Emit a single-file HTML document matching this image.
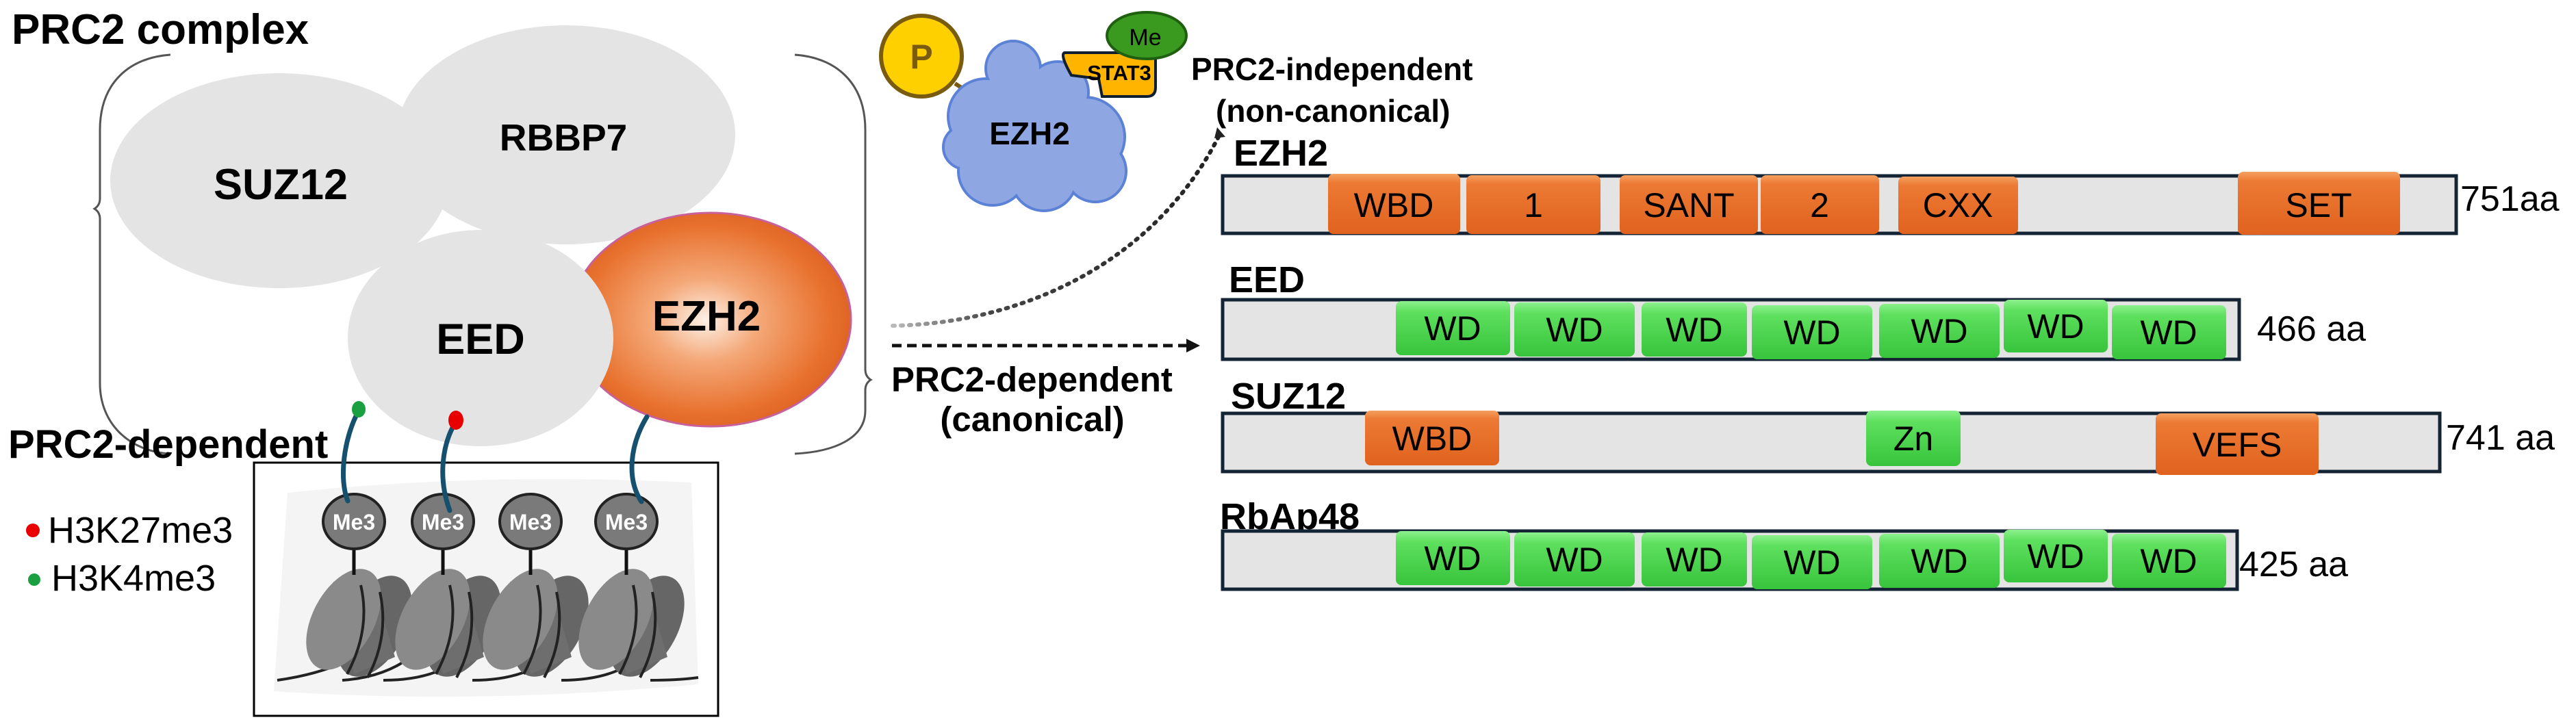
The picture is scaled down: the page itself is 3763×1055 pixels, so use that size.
<!DOCTYPE html>
<html><head><meta charset="utf-8"><style>
html,body{margin:0;padding:0;background:#fff;}
svg{display:block;}
text{font-family:"Liberation Sans",Arial,sans-serif;}
</style></head><body>
<svg width="3763" height="1055" viewBox="0 0 3763 1055" xmlns="http://www.w3.org/2000/svg">
<defs>
<radialGradient id="ezg" cx="0.48" cy="0.5" r="0.55">
<stop offset="0" stop-color="#fdf0e6"/><stop offset="0.35" stop-color="#f4a878"/><stop offset="0.8" stop-color="#e8712e"/><stop offset="1" stop-color="#dc6020"/></radialGradient>
<linearGradient id="og" x1="0" y1="0" x2="0" y2="1"><stop offset="0" stop-color="#f5a060"/><stop offset="0.15" stop-color="#ec7a34"/><stop offset="1" stop-color="#e0621e"/></linearGradient>
<linearGradient id="gg" x1="0" y1="0" x2="0" y2="1"><stop offset="0" stop-color="#8cf08c"/><stop offset="0.2" stop-color="#5ee05e"/><stop offset="1" stop-color="#38c43c"/></linearGradient>
<linearGradient id="dotg" x1="0" y1="0" x2="1" y2="0"><stop offset="0" stop-color="#bbb"/><stop offset="0.3" stop-color="#444"/><stop offset="1" stop-color="#222"/></linearGradient>
</defs>

<!-- Title -->
<text x="17" y="64" font-size="62" font-weight="bold">PRC2 complex</text>

<!-- Braces -->
<path d="M249,80 C190,84 146,120 146,190 L146,290 Q146,300 138,305 Q146,310 146,320 L146,560 C146,620 190,660 249,663" fill="none" stroke="#555" stroke-width="3"/>
<path d="M1161,80 C1220,84 1264,120 1264,190 L1264,540 Q1264,550 1272,555 Q1264,560 1264,570 L1264,600 C1264,640 1220,660 1161,663" fill="none" stroke="#555" stroke-width="3"/>

<!-- Complex ellipses -->
<ellipse cx="408" cy="264" rx="247" ry="157" fill="#e4e4e4"/>
<ellipse cx="827" cy="197" rx="247" ry="160" fill="#e4e4e4"/>
<ellipse cx="1038" cy="467" rx="205" ry="156" fill="url(#ezg)" stroke="#c8609a" stroke-width="3"/>
<ellipse cx="702" cy="494" rx="194" ry="158" fill="#e4e4e4"/>
<text x="410" y="291" font-size="63" font-weight="bold" text-anchor="middle">SUZ12</text>
<text x="823" y="220" font-size="55" font-weight="bold" text-anchor="middle">RBBP7</text>
<text x="702" y="517" font-size="63" font-weight="bold" text-anchor="middle">EED</text>
<text x="1032" y="483" font-size="62" font-weight="bold" text-anchor="middle">EZH2</text>

<!-- PRC2-dependent left -->
<text x="12" y="669" font-size="58" font-weight="bold">PRC2-dependent</text>
<circle cx="48" cy="775" r="10" fill="#e80000"/>
<text x="70" y="793" font-size="54">H3K27me3</text>
<circle cx="50" cy="847" r="9" fill="#1aa040"/>
<text x="75" y="863" font-size="54">H3K4me3</text>

<!-- Chromatin box -->
<rect x="371" y="676" width="678" height="370" fill="#fff" stroke="#000" stroke-width="3"/>
<path d="M420,720 Q700,690 1010,705 L1020,1000 Q700,1030 400,1010 Z" fill="#f4f4f4"/>
<g id="nuc">
</g>
<!-- nucleosomes -->
<g stroke="#222" stroke-width="4" fill="none">
<path d="M405,994 Q470,985 520,960 M500,994 Q560,990 600,960 M560,994 Q640,994 680,955 M690,994 Q770,994 810,955 M820,994 Q900,994 940,955 M950,994 Q990,994 1020,990"/>
</g>
<g>
<!-- each nucleosome -->
<g transform="translate(517,0)">
<ellipse cx="30" cy="915" rx="45" ry="80" transform="rotate(28 30 915)" fill="#666"/>
<path d="M-30,850 L30,860 L60,960 L0,985 Z" fill="#6e6e6e"/>
<ellipse cx="-15" cy="905" rx="45" ry="80" transform="rotate(28 -15 905)" fill="#8a8a8a"/>
<path d="M10,855 Q25,920 -10,985 M38,865 Q52,930 20,990" stroke="#222" stroke-width="4" fill="none"/>
</g>
<g transform="translate(647,0)">
<ellipse cx="30" cy="915" rx="45" ry="80" transform="rotate(28 30 915)" fill="#666"/>
<path d="M-30,850 L30,860 L60,960 L0,985 Z" fill="#6e6e6e"/>
<ellipse cx="-15" cy="905" rx="45" ry="80" transform="rotate(28 -15 905)" fill="#8a8a8a"/>
<path d="M10,855 Q25,920 -10,985 M38,865 Q52,930 20,990" stroke="#222" stroke-width="4" fill="none"/>
</g>
<g transform="translate(775,0)">
<ellipse cx="30" cy="915" rx="45" ry="80" transform="rotate(28 30 915)" fill="#666"/>
<path d="M-30,850 L30,860 L60,960 L0,985 Z" fill="#6e6e6e"/>
<ellipse cx="-15" cy="905" rx="45" ry="80" transform="rotate(28 -15 905)" fill="#8a8a8a"/>
<path d="M10,855 Q25,920 -10,985 M38,865 Q52,930 20,990" stroke="#222" stroke-width="4" fill="none"/>
</g>
<g transform="translate(915,0)">
<ellipse cx="30" cy="915" rx="45" ry="80" transform="rotate(28 30 915)" fill="#666"/>
<path d="M-30,850 L30,860 L60,960 L0,985 Z" fill="#6e6e6e"/>
<ellipse cx="-15" cy="905" rx="45" ry="80" transform="rotate(28 -15 905)" fill="#8a8a8a"/>
<path d="M10,855 Q25,920 -10,985 M38,865 Q52,930 20,990" stroke="#222" stroke-width="4" fill="none"/>
</g>
</g>
<!-- stems and Me3 -->
<g stroke="#111" stroke-width="5">
<line x1="517" y1="800" x2="517" y2="840"/><line x1="647" y1="800" x2="647" y2="840"/><line x1="775" y1="800" x2="775" y2="840"/><line x1="915" y1="800" x2="915" y2="840"/>
</g>
<g fill="#7a7a7a" stroke="#222" stroke-width="4">
<ellipse cx="517" cy="762" rx="45" ry="40"/><ellipse cx="647" cy="762" rx="45" ry="40"/><ellipse cx="775" cy="762" rx="45" ry="40"/><ellipse cx="915" cy="762" rx="45" ry="40"/>
</g>
<g font-size="32" font-weight="bold" fill="#fff" text-anchor="middle">
<text x="517" y="774">Me3</text><text x="647" y="774">Me3</text><text x="775" y="774">Me3</text><text x="915" y="774">Me3</text>
</g>
<!-- tethers -->
<g stroke="#15506e" stroke-width="7" fill="none" stroke-linecap="round">
<path d="M524,600 C502,640 495,700 508,732"/>
<path d="M666,616 C645,650 640,700 657,746"/>
<path d="M945,609 C920,650 915,700 937,733"/>
</g>
<ellipse cx="524" cy="598" rx="10" ry="12" fill="#1aa040"/>
<ellipse cx="666" cy="614" rx="11" ry="14" fill="#e80000"/>

<!-- EZH2 blob -->
<line x1="1395" y1="122" x2="1436" y2="148" stroke="#7a5c10" stroke-width="6"/>
<g fill="#8ea6e2" stroke="#5b82d6" stroke-width="4">
<circle cx="1480" cy="100" r="40"/><circle cx="1440" cy="170" r="55"/><circle cx="1520" cy="185" r="75"/><circle cx="1585" cy="200" r="58"/><circle cx="1600" cy="250" r="45"/><circle cx="1450" cy="250" r="50"/><circle cx="1525" cy="260" r="48"/><circle cx="1410" cy="215" r="32"/><circle cx="1545" cy="135" r="45"/>
</g>
<g fill="#8ea6e2">
<circle cx="1480" cy="100" r="38"/><circle cx="1440" cy="170" r="53"/><circle cx="1520" cy="185" r="73"/><circle cx="1585" cy="200" r="56"/><circle cx="1600" cy="250" r="43"/><circle cx="1450" cy="250" r="48"/><circle cx="1525" cy="260" r="46"/><circle cx="1410" cy="215" r="30"/><circle cx="1545" cy="135" r="43"/>
</g>
<text x="1504" y="211" font-size="46" font-weight="bold" text-anchor="middle">EZH2</text>
<circle cx="1346" cy="82" r="59" fill="#ffd000" stroke="#7a5c10" stroke-width="6"/>
<text x="1346" y="100" font-size="50" font-weight="bold" fill="#7a5c10" text-anchor="middle">P</text>
<path d="M1555,77 L1680,77 Q1688,77 1688,88 L1688,128 Q1688,141 1675,141 L1610,141 L1605,115 L1565,110 Q1548,80 1555,77 Z" fill="#ffb400" stroke="#0f1f30" stroke-width="4"/>
<text x="1635" y="117" font-size="31" font-weight="bold" text-anchor="middle">STAT3</text>
<ellipse cx="1675" cy="52" rx="58" ry="34" fill="#3a9a20" stroke="#1f5f10" stroke-width="4"/>
<text x="1673" y="66" font-size="34" text-anchor="middle">Me</text>

<!-- connectors -->
<path d="M1304,476 C1500,472 1690,380 1782,196" fill="none" stroke="url(#dotg)" stroke-width="6" stroke-dasharray="3 9" stroke-linecap="round"/>
<path d="M1778,186 L1790,200 L1774,202 Z" fill="#222"/>
<line x1="1303" y1="505" x2="1735" y2="505" stroke="#111" stroke-width="5" stroke-dasharray="14 8"/>
<path d="M1733,495 L1753,505 L1733,515 Z" fill="#111"/>
<text x="1740" y="117" font-size="46" font-weight="bold">PRC2-independent</text>
<text x="1776" y="178" font-size="46" font-weight="bold">(non-canonical)</text>
<text x="1302" y="572" font-size="51" font-weight="bold">PRC2-dependent</text>
<text x="1508" y="630" font-size="51" font-weight="bold" text-anchor="middle">(canonical)</text>

<!-- Domain diagrams -->
<g font-size="54" font-weight="bold">
<text x="1802" y="242">EZH2</text>
<text x="1795" y="427">EED</text>
<text x="1798" y="597">SUZ12</text>
<text x="1782" y="773">RbAp48</text>
</g>
<g fill="#e4e4e4" stroke="#142434" stroke-width="5">
<rect x="1786" y="257" width="1802" height="84"/>
<rect x="1786" y="438" width="1485" height="87"/>
<rect x="1786" y="604" width="1778" height="85"/>
<rect x="1786" y="776" width="1482" height="85"/>
</g>
<g fill="url(#og)">
<rect x="1940" y="254" width="193" height="88" rx="8"/>
<rect x="2142" y="256" width="196" height="86" rx="8"/>
<rect x="2366" y="256" width="202" height="86" rx="8"/>
<rect x="2572" y="256" width="173" height="86" rx="8"/>
<rect x="2773" y="258" width="175" height="84" rx="8"/>
<rect x="3269" y="251" width="237" height="92" rx="8"/>
<rect x="1994" y="600" width="196" height="80" rx="8"/>
<rect x="3149" y="604" width="238" height="90" rx="8"/>
</g>
<g fill="url(#gg)">
<rect x="2039" y="440" width="167" height="79" rx="8"/>
<rect x="2212" y="442" width="176" height="79" rx="8"/>
<rect x="2398" y="442" width="154" height="79" rx="8"/>
<rect x="2559" y="446" width="176" height="79" rx="8"/>
<rect x="2745" y="444" width="176" height="79" rx="8"/>
<rect x="2927" y="438" width="152" height="77" rx="8"/>
<rect x="3085" y="446" width="167" height="79" rx="8"/>
<rect x="2726" y="600" width="138" height="81" rx="8"/>
<rect x="2039" y="776" width="167" height="79" rx="8"/>
<rect x="2212" y="778" width="176" height="79" rx="8"/>
<rect x="2398" y="778" width="154" height="79" rx="8"/>
<rect x="2559" y="782" width="176" height="79" rx="8"/>
<rect x="2745" y="780" width="176" height="79" rx="8"/>
<rect x="2927" y="774" width="152" height="77" rx="8"/>
<rect x="3085" y="780" width="167" height="79" rx="8"/>
</g>
<g font-size="50" text-anchor="middle">
<text x="2036" y="317">WBD</text><text x="2240" y="317">1</text><text x="2467" y="317">SANT</text><text x="2658" y="317">2</text><text x="2860" y="317">CXX</text><text x="3387" y="317">SET</text>
<text x="2122" y="497">WD</text><text x="2300" y="499">WD</text><text x="2475" y="499">WD</text><text x="2647" y="503">WD</text><text x="2833" y="501">WD</text><text x="3003" y="494">WD</text><text x="3168" y="503">WD</text>
<text x="2092" y="658">WBD</text><text x="2795" y="658">Zn</text><text x="3268" y="667">VEFS</text>
<text x="2122" y="833">WD</text><text x="2300" y="835">WD</text><text x="2475" y="835">WD</text><text x="2647" y="839">WD</text><text x="2833" y="837">WD</text><text x="3003" y="830">WD</text><text x="3168" y="837">WD</text>
</g>
<g font-size="52">
<text x="3594" y="308">751aa</text>
<text x="3297" y="498">466 aa</text>
<text x="3573" y="657">741 aa</text>
<text x="3271" y="842">425 aa</text>
</g>
</svg>
</body></html>
